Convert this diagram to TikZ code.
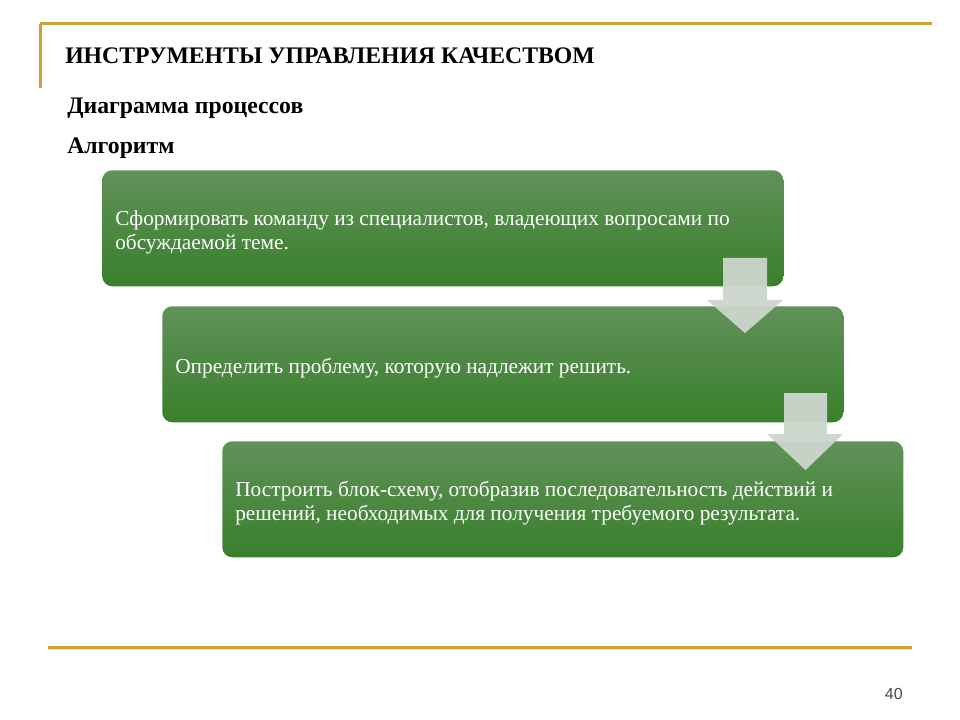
\documentclass[tikz,border=0pt]{standalone}
\usepackage{fontspec}
\setmainfont{Liberation Serif}
\newfontfamily\numfont{Liberation Sans}
\usetikzlibrary{calc}
\definecolor{RuleClr}{rgb}{0.80,0.64,0.20}
\definecolor{RuleLight}{rgb}{0.98,0.90,0.60}
\definecolor{StepTop}{rgb}{0.38,0.57,0.35}
\definecolor{StepBot}{rgb}{0.22,0.50,0.17}
\definecolor{ArrowClr}{rgb}{0.80,0.84,0.80}

\tikzset{
  stepbox/.style={rounded corners=7.5pt,top color=StepTop,bottom color=StepBot,
    minimum width=510.75pt,minimum height=87pt,inner sep=0pt,anchor=north west},
  steptext/.style={text=white,align=left,anchor=west,inner sep=0pt,
    font=\fontsize{16}{18}\selectfont},
  headtext/.style={anchor=base west,inner sep=0pt,font=\bfseries\fontsize{17.8}{20}\selectfont},
  downarrow/.style={fill=ArrowClr,fill opacity=0.95,draw=none}
}

\begin{document}
\begin{tikzpicture}[x=0.75pt,y=-0.75pt]
\useasboundingbox (0,0) rectangle (960,720);

% rules
\draw[RuleClr,line width=2.25pt] (40,24) -- (932,24);
\draw[RuleClr,line width=2.25pt] (40,24) -- (40,88);
\draw[RuleLight,line width=1pt] (48,649.5) -- (912,649.5);
\draw[RuleClr,line width=2.25pt] (48,647) -- (912,647);

% headings
\node[headtext] (title) at (65,64) {ИНСТРУМЕНТЫ УПРАВЛЕНИЯ КАЧЕСТВОМ};
\node[headtext] (sub1) at (67,114) {Диаграмма процессов};
\node[headtext] (sub2) at (67,154) {Алгоритм};

% steps
\node[stepbox] (s1) at (102,170) {};
\node[stepbox] (s2) at (162,306) {};
\node[stepbox] (s3) at (222,441) {};

\node[steptext] (t1) at ($(s1.west)+(13,4)$) {Сформировать команду из специалистов, владеющих вопросами по\\обсуждаемой теме.};
\node[steptext] (t2) at ($(s2.west)+(13,4)$) {Определить проблему, которую надлежит решить.};
\node[steptext] (t3) at ($(s3.west)+(13,4)$) {Построить блок-схему, отобразив последовательность действий и\\решений, необходимых для получения требуемого результата.};

% arrows between steps
\fill[downarrow] (723,258) -- (767,258) -- (767,300) -- (783,300) -- (745,333)
  -- (707,300) -- (723,300) -- cycle;
\fill[downarrow] (784,393) -- (827,393) -- (827,434) -- (843,434) -- (805.5,470)
  -- (767,434) -- (784,434) -- cycle;

% page number
\node[anchor=base east,inner sep=0pt,text=black!70,font=\numfont\fontsize{12}{14}\selectfont] (pg) at (903,699) {40};
\end{tikzpicture}
\end{document}
